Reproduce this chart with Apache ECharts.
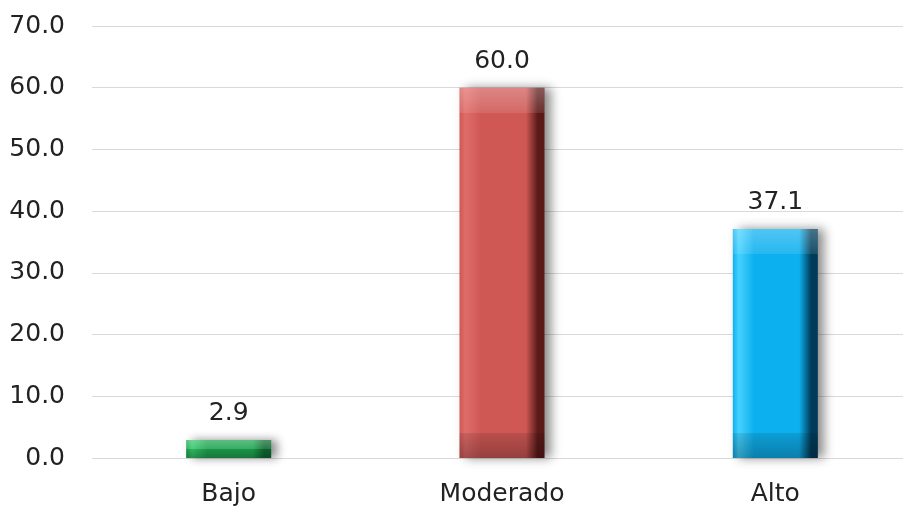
<!DOCTYPE html>
<html>
<head>
<meta charset="utf-8">
<script src="https://cdn.jsdelivr.net/npm/echarts@6/dist/echarts.min.js"></script>
<style>html,body{margin:0;padding:0;background:#fff;overflow:hidden}#c{width:903px;height:508px}</style>
</head>
<body>
<div id="c"></div>
<script>
const categories = ['Bajo', 'Moderado', 'Alto'];
const values = [2.9, 60.0, 37.1];
const yTicks = [0, 10, 20, 30, 40, 50, 60, 70];

const palettes = [
  ['#36c86a', '#1ea550', '#0d6a30'],
  ['#e06c69', '#cf5855', '#5a1a18'],
  ['#45d2ff', '#0db0ee', '#003c5a']
];

function grad(p) {
  return {
    type: 'linear', x: 0, y: 0, x2: 1, y2: 0,
    colorStops: [
      { offset: 0, color: p[1] },
      { offset: 0.07, color: p[0] },
      { offset: 0.25, color: p[1] },
      { offset: 0.78, color: p[1] },
      { offset: 0.92, color: p[2] },
      { offset: 1, color: p[2] }
    ]
  };
}

const chart = echarts.init(document.getElementById('c'), null, { renderer: 'canvas' });
const font = '"DejaVu Sans", sans-serif';
const option = {
  animation: false,
  backgroundColor: '#ffffff',
  grid: { left: 92, width: 820, top: 26, bottom: 50, containLabel: false, outerBoundsMode: 'none' },
  xAxis: {
    type: 'category',
    data: categories,
    axisLine: { show: false },
    axisTick: { show: false },
    axisLabel: { color: '#222', fontSize: 25, fontFamily: font, margin: 24 }
  },
  yAxis: {
    type: 'value',
    min: yTicks[0],
    max: yTicks[yTicks.length - 1],
    interval: 10,
    axisLine: { show: false },
    axisTick: { show: false },
    splitLine: { lineStyle: { color: '#d9d9d9', width: 1 } },
    axisLabel: {
      color: '#222', fontSize: 25, fontFamily: font, margin: 27,
      formatter: v => v.toFixed(1)
    }
  },
  series: [{
    type: 'bar',
    barWidth: 85,
    data: values.map((v, i) => ({
      value: v,
      itemStyle: {
        color: grad(palettes[i]),
        shadowColor: 'rgba(0,0,0,0.45)',
        shadowBlur: 10,
        shadowOffsetX: 6,
        shadowOffsetY: 0
      }
    })),
    label: {
      show: true,
      position: 'top',
      distance: 14,
      color: '#222',
      fontSize: 25,
      fontFamily: font,
      formatter: p => p.value.toFixed(1)
    }
  }]
};
chart.setOption(option);

// bevel overlay: lighter top band, darker bottom band, in pixel units per bar
const zeroY = chart.convertToPixel({ yAxisIndex: 0 }, 0);
const overlay = values.map((v) => {
  const topY = chart.convertToPixel({ yAxisIndex: 0 }, v);
  const h = Math.max(zeroY - topY, 1);
  const band = Math.min(25, h / 2) / h;
  return {
    value: v,
    itemStyle: {
      color: {
        type: 'linear', x: 0, y: 0, x2: 0, y2: 1,
        colorStops: [
          { offset: 0, color: 'rgba(255,255,255,0.28)' },
          { offset: band, color: 'rgba(255,255,255,0.10)' },
          { offset: Math.min(band + 0.001, 0.5), color: 'rgba(255,255,255,0)' },
          { offset: Math.max(1 - band - 0.001, 0.5), color: 'rgba(0,0,0,0)' },
          { offset: 1 - band, color: 'rgba(0,0,0,0.10)' },
          { offset: 1, color: 'rgba(0,0,0,0.28)' }
        ]
      }
    }
  };
});
option.series.push({
  type: 'bar',
  barWidth: 85,
  barGap: '-100%',
  silent: true,
  data: overlay,
  label: { show: false }
});
chart.setOption(option);
</script>
</body>
</html>
